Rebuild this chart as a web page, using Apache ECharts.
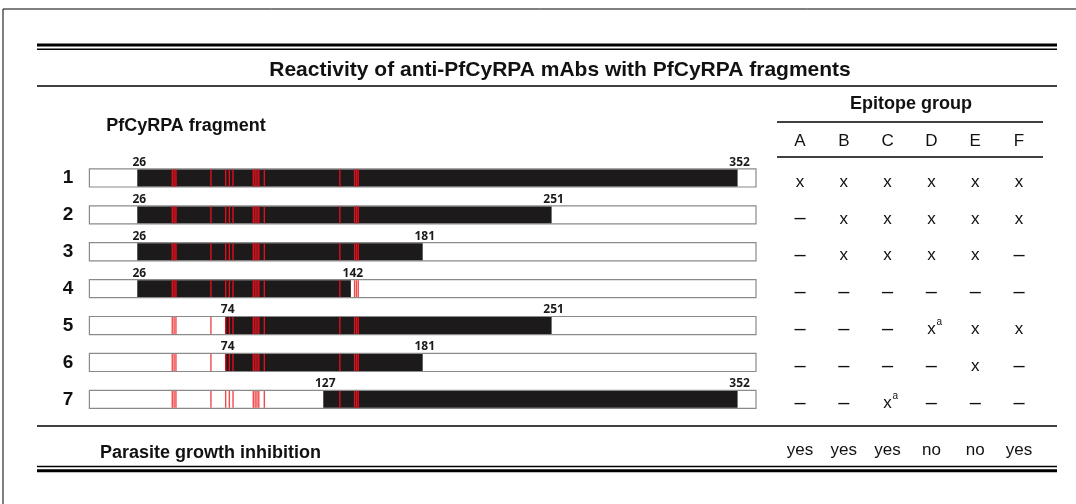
<!DOCTYPE html>
<html>
<head>
<meta charset="utf-8">
<title>Reactivity of anti-PfCyRPA mAbs with PfCyRPA fragments</title>
<script src="https://cdn.jsdelivr.net/npm/echarts@6/dist/echarts.min.js"></script>
<style>
  html, body { margin: 0; padding: 0; background: #fff; }
  #chart { width: 1076px; height: 504px; }
</style>
</head>
<body>
<div id="chart"></div>
<script>
// fragments of PfCyRPA (residue ranges)
const fragments = ['1', '2', '3', '4', '5', '6', '7'];
const fragStart = [26, 26, 26, 26, 74, 74, 127];
const fragEnd = [352, 251, 181, 142, 251, 181, 352];
const proteinLength = 362;
// red marks along the sequence (residue numbers)
const sites = [45, 46, 47, 66, 74, 76, 78, 89, 90, 91, 92, 95, 136, 144, 145, 146];

// epitope group table
const epitopes = ['A', 'B', 'C', 'D', 'E', 'F'];
const reactivity = [
  ['x', 'x', 'x', 'x', 'x', 'x'],
  ['-', 'x', 'x', 'x', 'x', 'x'],
  ['-', 'x', 'x', 'x', 'x', '-'],
  ['-', '-', '-', '-', '-', '-'],
  ['-', '-', '-', 'xa', 'x', 'x'],
  ['-', '-', '-', '-', 'x', '-'],
  ['-', '-', 'xa', '-', '-', '-']
];
const growth = ['yes', 'yes', 'yes', 'no', 'no', 'yes'];

const sans = '"Liberation Sans", Arial, sans-serif';
const numFont = 'bold 12px "Noto Sans", sans-serif';

const fragData = fragments.map((f, i) => [i, fragStart[i], fragEnd[i]]);
const tableData = [];
reactivity.forEach((row, r) => row.forEach((v, c) => tableData.push([c, r])));

function renderFragment(params, api) {
  const row = api.value(0);
  const start = api.value(1);
  const end = api.value(2);
  const h = api.size([0, 1])[1] * 0.49;
  const yc = api.coord([0, row])[1];
  const y0 = yc - h / 2;
  const xa = api.coord([0, row])[0];
  const xb = api.coord([proteinLength, row])[0];
  const xs = api.coord([start, row])[0];
  const xe = api.coord([end, row])[0];
  const unit = api.size([1, 0])[0];
  const children = [
    { type: 'rect', shape: { x: xa, y: y0, width: xb - xa, height: h },
      style: { fill: '#fff', stroke: '#8a8a8a', lineWidth: 1.2 } },
    { type: 'rect', shape: { x: xs, y: y0 + 0.6, width: xe - xs, height: h - 1.2 },
      style: { fill: '#1c1a1b' } }
  ];
  sites.forEach(s => {
    const inside = s >= start && s <= end;
    const x = api.coord([s - 0.5, row])[0];
    children.push({
      type: 'rect',
      shape: { x: x + unit * 0.12, y: y0 + 0.6, width: unit * 0.76, height: h - 1.2 },
      style: { fill: inside ? '#e0101c' : '#ef4b4b' }
    });
  });
  [start, end].forEach(v => {
    children.push({
      type: 'text',
      style: {
        text: String(v), x: api.coord([v, row])[0] + 2, y: y0 - 0.5,
        align: 'center', verticalAlign: 'bottom', font: numFont, fill: '#1a1a1a'
      }
    });
  });
  return { type: 'group', children };
}

function renderCell(params, api) {
  const c = api.value(0);
  const r = api.value(1);
  const p = api.coord([c, r]);
  const code = reactivity[r][c];
  const children = [];
  if (code === '-') {
    children.push({ type: 'text', style: { text: '\u2013', x: p[0], y: p[1] + 4, align: 'center',
      verticalAlign: 'middle', font: '20px ' + sans, fill: '#111' } });
  } else {
    children.push({ type: 'text', style: { text: 'x', x: p[0], y: p[1] + 4, align: 'center',
      verticalAlign: 'middle', font: '17px ' + sans, fill: '#111' } });
    if (code === 'xa') {
      children.push({ type: 'text', style: { text: 'a', x: p[0] + 5, y: p[1] - 3, align: 'left',
        verticalAlign: 'middle', font: '10px ' + sans, fill: '#111' } });
    }
  }
  return { type: 'group', children };
}

function hline(x1, x2, y, w) {
  return { type: 'line', shape: { x1: x1, y1: y, x2: x2, y2: y }, style: { stroke: '#000', lineWidth: w } };
}

const chart = echarts.init(document.getElementById('chart'));
chart.setOption({
  animation: false,
  grid: [
    { left: 89.4, right: 320, top: 159.5, height: 258.3 },
    { left: 778.1, right: 35.1, top: 159.5, height: 258.3 }
  ],
  xAxis: [
    { gridIndex: 0, type: 'value', min: 0, max: proteinLength, show: false },
    { gridIndex: 1, type: 'category', data: epitopes, position: 'top',
      axisLine: { show: false }, axisTick: { show: false },
      axisLabel: { fontSize: 17, color: '#111', fontFamily: sans, margin: 10 } },
    { gridIndex: 1, type: 'category', data: epitopes, position: 'bottom',
      axisLine: { show: false }, axisTick: { show: false },
      axisLabel: { fontSize: 17, color: '#111', fontFamily: sans, margin: 24,
        formatter: (v, i) => growth[i] } }
  ],
  yAxis: [
    { gridIndex: 0, type: 'category', data: fragments, inverse: true,
      axisLine: { show: false }, axisTick: { show: false }, splitLine: { show: false },
      axisLabel: { fontSize: 19, fontWeight: 'bold', color: '#111', fontFamily: sans, margin: 16 } },
    { gridIndex: 1, type: 'category', data: fragments, inverse: true, show: false }
  ],
  series: [
    { type: 'custom', xAxisIndex: 0, yAxisIndex: 0, data: fragData, renderItem: renderFragment },
    { type: 'custom', xAxisIndex: 1, yAxisIndex: 1, data: tableData, renderItem: renderCell }
  ],
  graphic: [
    hline(3, 1076, 9, 1),
    { type: 'line', shape: { x1: 3, y1: 9, x2: 3, y2: 504 }, style: { stroke: '#000', lineWidth: 1 } },
    hline(37, 1057, 45, 3),
    hline(37, 1057, 49.3, 1.5),
    hline(37, 1057, 86, 1.5),
    hline(777, 1043, 122, 1.5),
    hline(777, 1043, 157, 1.5),
    hline(37, 1057, 426, 1.5),
    hline(37, 1057, 466.5, 1.5),
    hline(37, 1057, 470.8, 3),
    { type: 'text', x: 560, y: 70, style: { text: 'Reactivity of anti-PfCyRPA mAbs with PfCyRPA fragments',
      font: 'bold 21px ' + sans, fill: '#111', align: 'center', verticalAlign: 'middle' } },
    { type: 'text', x: 186, y: 126, style: { text: 'PfCyRPA fragment',
      font: 'bold 18px ' + sans, fill: '#111', align: 'center', verticalAlign: 'middle' } },
    { type: 'text', x: 911, y: 104, style: { text: 'Epitope group',
      font: 'bold 18px ' + sans, fill: '#111', align: 'center', verticalAlign: 'middle' } },
    { type: 'text', x: 100, y: 453, style: { text: 'Parasite growth inhibition',
      font: 'bold 18px ' + sans, fill: '#111', align: 'left', verticalAlign: 'middle' } }
  ]
});
</script>
</body>
</html>
